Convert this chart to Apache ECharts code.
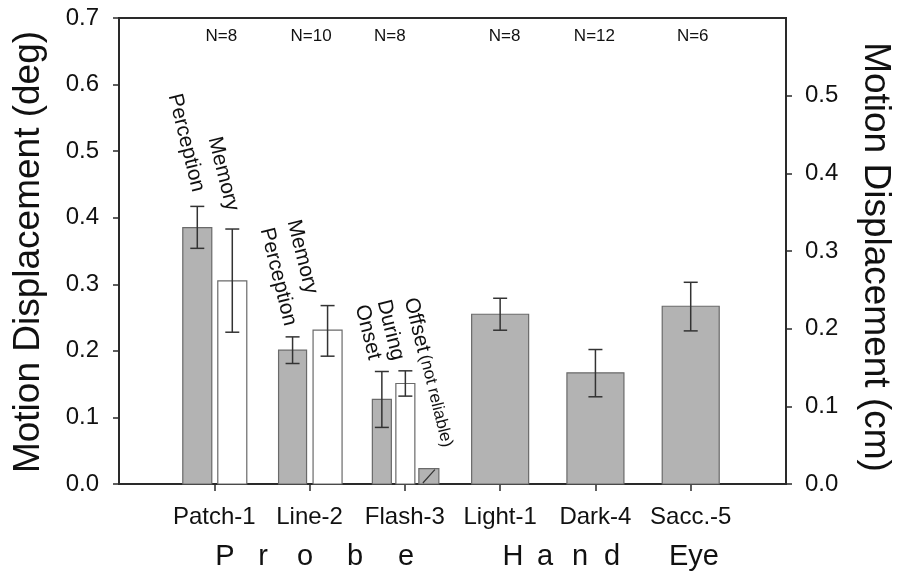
<!DOCTYPE html>
<html>
<head>
<meta charset="utf-8">
<script src="https://cdn.jsdelivr.net/npm/echarts@6/dist/echarts.min.js"></script>
<style>
html,body{margin:0;padding:0;background:#fff;}
#chart{width:904px;height:574px;}
</style>
</head>
<body>
<div id="chart"></div>
<script>
// ---- data ----
const categories = ['Patch-1', 'Line-2', 'Flash-3', 'Light-1', 'Dark-4', 'Sacc.-5'];
const nCounts = [8, 10, 8, 8, 12, 6];
const degTicks = [0, 0.1, 0.2, 0.3, 0.4, 0.5, 0.6, 0.7];
const cmTicks = [0, 0.1, 0.2, 0.3, 0.4, 0.5];
// one entry per bar
const barCategory = [0, 0, 1, 1, 2, 2, 2, 3, 4, 5];
const barCondition = ['Perception', 'Memory', 'Perception', 'Memory', 'Onset', 'During', 'Offset', '', '', ''];
const barMean = [0.385, 0.305, 0.201, 0.231, 0.127, 0.151, 0.023, 0.255, 0.167, 0.267];
const errUpper = [0.417, 0.383, 0.221, 0.268, 0.169, 0.170, null, 0.279, 0.202, 0.303];
const errLower = [0.354, 0.228, 0.181, 0.192, 0.085, 0.132, null, 0.231, 0.131, 0.230];
const groupNames = ['Probe', 'Hand', 'Eye'];

// ---- layout / style (not data) ----
const barOffsetPx = [-17, 18, -17, 18, -23, 0.5, 24, 0, 0, 0];
const barWidthPx = [29, 29, 28, 29, 19, 19, 20, 57, 57, 57];
const barKind = ['gray', 'white', 'gray', 'white', 'gray', 'white', 'hatch', 'gray', 'gray', 'gray'];
const nOffsetPx = [7, 1.5, -15, 4.5, -1, 2];
const FONT = '"Liberation Sans", Arial, Helvetica, sans-serif';
const AX = '#2a2a2a';

const xData = [''].concat(categories, ['']);

const barData = barMean.map((v, i) => [barCategory[i] + 1, v, i]);
const errData = [];
barMean.forEach((v, i) => { if (errUpper[i] != null) errData.push([barCategory[i] + 1, errLower[i], errUpper[i], i]); });
const nData = nCounts.map((n, i) => [i + 1, 0.7, n, i]);

const chart = echarts.init(document.getElementById('chart'), null, {renderer: 'canvas'});

function deg(a) { return a * Math.PI / 180; }
const rot = deg(-76);

const annot = [
  {t: 'Perception', x: 174, y: 94},
  {t: 'Memory', x: 214, y: 137},
  {t: 'Perception', x: 266, y: 228},
  {t: 'Memory', x: 293, y: 220},
  {t: 'Onset', x: 361, y: 305},
  {t: 'During', x: 383, y: 300},
];

const graphics = [];
annot.forEach(a => graphics.push({
  type: 'text', x: a.x, y: a.y, rotation: rot, silent: true,
  style: {text: a.t, font: '21px ' + FONT, fill: '#111', textAlign: 'left', textVerticalAlign: 'middle', align: 'left', verticalAlign: 'middle'}
}));
graphics.push({
  type: 'text', x: 410, y: 298, rotation: rot, silent: true,
  style: {
    text: '{a|Offset} {b|(not reliable)}', fill: '#111',
    textAlign: 'left', textVerticalAlign: 'middle', align: 'left', verticalAlign: 'middle',
    rich: {a: {fontSize: 21, fontFamily: FONT, fill: '#111'}, b: {fontSize: 17, fontFamily: FONT, fill: '#111'}}
  }
});
// axis titles
graphics.push({
  type: 'text', x: 29, y: 252, rotation: deg(90), silent: true,
  style: {text: 'Motion Displacement (deg)', font: '37px ' + FONT, fill: '#111', textAlign: 'center', textVerticalAlign: 'middle', align: 'center', verticalAlign: 'middle'}
});
graphics.push({
  type: 'text', x: 875, y: 257, rotation: deg(-90), silent: true,
  style: {text: 'Motion Displacement (cm)', font: '37px ' + FONT, fill: '#111', textAlign: 'center', textVerticalAlign: 'middle', align: 'center', verticalAlign: 'middle'}
});
// group labels (spaced letters)
const groupLetterX = [[225, 263, 305, 355, 406], [513, 545, 580, 612], [694]];
groupNames.forEach((g, gi) => {
  const parts = gi === 2 ? [g] : g.split('');
  parts.forEach((ch, k) => graphics.push({
    type: 'text', x: groupLetterX[gi][k], y: 557, silent: true,
    style: {text: ch, font: '29px ' + FONT, fill: '#111', textAlign: 'center', textVerticalAlign: 'middle', align: 'center', verticalAlign: 'middle'}
  }));
});

const option = {
  animation: false,
  backgroundColor: '#fff',
  grid: {left: 119, right: 118, top: 18, bottom: 90, show: true, borderColor: AX, borderWidth: 2, backgroundColor: 'transparent'},
  xAxis: {
    type: 'category', data: xData, boundaryGap: false,
    axisLine: {lineStyle: {color: AX, width: 2}},
    axisTick: {length: 7, lineStyle: {color: AX, width: 1.5}, interval: (idx) => idx > 0 && idx < xData.length - 1},
    axisLabel: {interval: 0, margin: 21, fontSize: 24, fontFamily: FONT, color: '#111'},
    splitLine: {show: false}
  },
  yAxis: [
    {
      type: 'value', position: 'left', min: 0, max: 0.7, interval: 0.1,
      axisLine: {show: true, lineStyle: {color: AX, width: 2}},
      axisTick: {show: true, length: 6, lineStyle: {color: AX, width: 1.5}, customValues: degTicks},
      axisLabel: {margin: 20, fontSize: 24, fontFamily: FONT, color: '#111', customValues: degTicks, formatter: v => v.toFixed(1)},
      splitLine: {show: false}
    },
    {
      type: 'value', position: 'right', min: 0, max: 0.6, interval: 0.1,
      axisLine: {show: true, lineStyle: {color: AX, width: 2}},
      axisTick: {show: true, length: 6, lineStyle: {color: AX, width: 1.5}, customValues: cmTicks},
      axisLabel: {margin: 19, fontSize: 24, fontFamily: FONT, color: '#111', customValues: cmTicks, formatter: v => v.toFixed(1)},
      splitLine: {show: false}
    }
  ],
  series: [
    {
      type: 'custom', name: 'bars', data: barData, xAxisIndex: 0, yAxisIndex: 0, silent: true,
      encode: {x: 0, y: 1},
      renderItem: function (params, api) {
        const i = api.value(2);
        const top = api.coord([api.value(0), api.value(1)]);
        const base = api.coord([api.value(0), 0]);
        const cx = top[0] + barOffsetPx[i];
        const w = barWidthPx[i];
        const kind = barKind[i];
        const children = [{
          type: 'rect',
          shape: {x: cx - w / 2, y: top[1], width: w, height: base[1] - top[1]},
          style: {fill: kind === 'white' ? '#ffffff' : '#b3b3b3', stroke: '#6a6a6a', lineWidth: 1.2}
        }];
        if (kind === 'hatch') {
          children.push({
            type: 'line',
            shape: {x1: cx - w / 2 + 4, y1: base[1] - 1, x2: cx + w / 2 - 4, y2: top[1] + 1},
            style: {stroke: '#333', lineWidth: 1.2}
          });
        }
        return {type: 'group', children: children};
      }
    },
    {
      type: 'custom', name: 'errors', data: errData, silent: true,
      encode: {x: 0, y: [1, 2]},
      renderItem: function (params, api) {
        const i = api.value(3);
        const lo = api.coord([api.value(0), api.value(1)]);
        const hi = api.coord([api.value(0), api.value(2)]);
        const cx = lo[0] + barOffsetPx[i];
        const cap = 7;
        const st = {stroke: '#333', lineWidth: 1.5};
        return {type: 'group', children: [
          {type: 'line', shape: {x1: cx, y1: lo[1], x2: cx, y2: hi[1]}, style: st},
          {type: 'line', shape: {x1: cx - cap, y1: lo[1], x2: cx + cap, y2: lo[1]}, style: st},
          {type: 'line', shape: {x1: cx - cap, y1: hi[1], x2: cx + cap, y2: hi[1]}, style: st}
        ]};
      }
    },
    {
      type: 'custom', name: 'N', data: nData, silent: true,
      encode: {x: 0, y: 1},
      renderItem: function (params, api) {
        const i = api.value(3);
        const p = api.coord([api.value(0), api.value(1)]);
        return {
          type: 'text', x: p[0] + nOffsetPx[i], y: p[1] + 18,
          style: {text: 'N=' + api.value(2), font: '17px ' + FONT, fill: '#111', textAlign: 'center', textVerticalAlign: 'middle', align: 'center', verticalAlign: 'middle'}
        };
      }
    }
  ],
  graphic: graphics
};
chart.setOption(option);
</script>
</body>
</html>
